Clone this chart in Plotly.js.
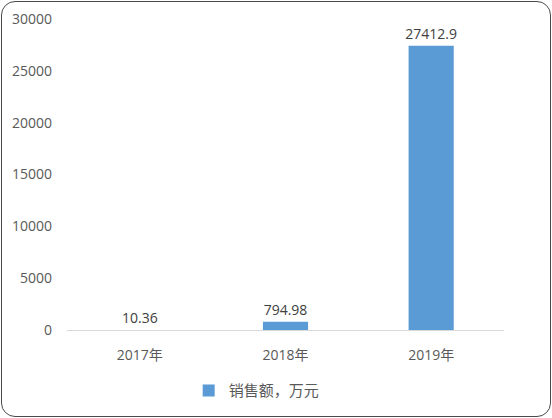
<!DOCTYPE html>
<html>
<head>
<meta charset="utf-8">
<script src="https://cdn.plot.ly/plotly-3.0.1.min.js"></script>
<style>
  body { margin: 0; background: #fff; }
  #wrap { position: relative; width: 552px; height: 418px; }
  #chart { width: 552px; height: 418px; }
  #frame {
    position: absolute; left: 1px; top: 1px; right: 1px; bottom: 1px;
    border: 1.5px solid #4a4a4a; border-radius: 14px; pointer-events: none;
  }
</style>
</head>
<body>
<div id="wrap">
  <div id="chart"></div>
  <div id="frame"></div>
</div>
<script>
const years = ['2017年', '2018年', '2019年']
const sales = [10.36, 794.98, 27412.9]
const salesText = ['10.36', '794.98', '27412.9']
const yTicks = [0, 5000, 10000, 15000, 20000, 25000, 30000]

const font = '"Open Sans", "Noto Sans CJK SC", sans-serif'

Plotly.newPlot('chart', [{
  type: 'bar',
  x: years,
  y: sales,
  name: '销售额，万元',
  text: salesText,
  textposition: 'outside',
  constraintext: 'none',
  cliponaxis: false,
  textfont: { family: font, size: 14, color: '#404040' },
  marker: { color: '#5b9bd5' },
  hoverinfo: 'none'
}], {
  width: 552,
  height: 418,
  margin: { l: 67, r: 48, t: 19, b: 88 },
  paper_bgcolor: '#fff',
  plot_bgcolor: '#fff',
  bargap: 0.69,
  font: { family: font, color: '#595959', size: 14 },
  xaxis: {
    showline: true,
    linecolor: '#d9d9d9',
    linewidth: 1,
    ticks: '',
    automargin: false,
    ticklabelstandoff: 12,
    tickfont: { size: 14, color: '#595959' }
  },
  yaxis: {
    range: [0, 30000],
    tickvals: yTicks,
    ticktext: yTicks.map(String),
    showgrid: false,
    zeroline: false,
    showline: false,
    ticks: '',
    automargin: false,
    ticklabelstandoff: 14,
    tickfont: { size: 14, color: '#595959' }
  },
  showlegend: true,
  legend: {
    orientation: 'h',
    x: 0.465, xref: 'container', xanchor: 'center',
    y: 0.065, yref: 'container', yanchor: 'middle',
    font: { size: 15, color: '#595959' },
    itemwidth: 30
  }
}, { displayModeBar: false, staticPlot: true })
</script>
</body>
</html>
